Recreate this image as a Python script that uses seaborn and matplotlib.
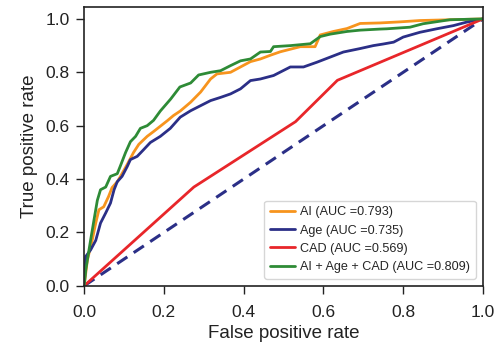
import numpy as np
import pandas as pd
import matplotlib
matplotlib.use("Agg")
import matplotlib.pyplot as plt
import seaborn as sns

labels = ["AI (AUC =0.793)", "Age (AUC =0.735)", "CAD (AUC =0.569)", "AI + Age + CAD (AUC =0.809)"]
colors = ["#f7941d", "#2b2f87", "#e8262a", "#2e8b36"]

ai_fpr = [0, 0.008, 0.02, 0.029, 0.037, 0.049, 0.061, 0.07, 0.083, 0.091, 0.108, 0.124, 0.137, 0.158,
          0.174, 0.191, 0.208, 0.224, 0.241, 0.267, 0.292, 0.317, 0.333, 0.367, 0.392, 0.417, 0.442,
          0.467, 0.492, 0.542, 0.579, 0.592, 0.625, 0.659, 0.692, 0.742, 0.792, 0.842, 0.92, 1.0]
ai_tpr = [0, 0.096, 0.17, 0.235, 0.285, 0.296, 0.334, 0.368, 0.39, 0.41, 0.455, 0.50, 0.53, 0.56,
          0.578, 0.598, 0.618, 0.638, 0.655, 0.688, 0.726, 0.775, 0.794, 0.80, 0.82, 0.84, 0.85,
          0.864, 0.877, 0.896, 0.896, 0.94, 0.953, 0.964, 0.983, 0.985, 0.989, 0.994, 0.997, 1.0]

age_fpr = [0, 0.004, 0.016, 0.029, 0.041, 0.054, 0.066, 0.075, 0.083, 0.095, 0.108, 0.116, 0.133,
           0.149, 0.166, 0.191, 0.216, 0.241, 0.267, 0.292, 0.317, 0.342, 0.367, 0.392, 0.417, 0.442,
           0.475, 0.517, 0.55, 0.584, 0.617, 0.65, 0.692, 0.725, 0.75, 0.776, 0.80, 0.842, 0.884,
           0.926, 0.959, 1.0]
age_tpr = [0, 0.11, 0.134, 0.17, 0.235, 0.273, 0.31, 0.36, 0.39, 0.41, 0.447, 0.473, 0.485,
           0.51, 0.537, 0.56, 0.59, 0.632, 0.656, 0.675, 0.694, 0.706, 0.719, 0.738, 0.769, 0.775,
           0.788, 0.82, 0.82, 0.838, 0.857, 0.876, 0.889, 0.90, 0.906, 0.913, 0.932, 0.95, 0.963,
           0.975, 0.988, 1.0]

cad_fpr = [0, 0.275, 0.53, 0.635, 1.0]
cad_tpr = [0, 0.37, 0.615, 0.77, 1.0]

all_fpr = [0, 0.004, 0.016, 0.025, 0.033, 0.041, 0.054, 0.066, 0.083, 0.091, 0.104, 0.116, 0.129,
           0.141, 0.158, 0.174, 0.191, 0.217, 0.24, 0.267, 0.287, 0.317, 0.342, 0.367, 0.392, 0.417,
           0.442, 0.467, 0.475, 0.517, 0.567, 0.592, 0.617, 0.659, 0.692, 0.742, 0.759, 0.817, 0.85,
           0.917, 1.0]
all_tpr = [0, 0.06, 0.17, 0.25, 0.32, 0.36, 0.37, 0.41, 0.42, 0.45, 0.50, 0.54, 0.56,
           0.59, 0.60, 0.62, 0.655, 0.70, 0.745, 0.76, 0.79, 0.80, 0.806, 0.825, 0.843, 0.85,
           0.876, 0.878, 0.896, 0.90, 0.907, 0.934, 0.943, 0.953, 0.958, 0.962, 0.963, 0.969, 0.982,
           0.997, 1.0]

chance = [0, 1]
tick_vals = [0, 0.2, 0.4, 0.6, 0.8, 1.0]
tick_labels = ["0.0", "0.2", "0.4", "0.6", "0.8", "1.0"]

frames = []
for lab, f, t in zip(labels, [ai_fpr, age_fpr, cad_fpr, all_fpr], [ai_tpr, age_tpr, cad_tpr, all_tpr]):
    frames.append(pd.DataFrame({"fpr": f, "tpr": t, "model": lab}))
df = pd.concat(frames, ignore_index=True)

sns.set_theme(style="white")
plt.rcParams["font.family"] = ["Liberation Sans", "DejaVu Sans"]

fig = plt.figure(figsize=(5.01, 3.46), dpi=100)
ax = fig.add_axes([0.168, 0.174, 0.796, 0.806])

sns.lineplot(x=chance, y=chance, ax=ax, color="#2b2f87", linestyle=(0, (4, 2.5)), linewidth=2.2)
sns.lineplot(data=df, x="fpr", y="tpr", hue="model", palette=dict(zip(labels, colors)),
             sort=False, estimator=None, units="model", linewidth=2.0, ax=ax, legend=True)

ax.set_xlim(0, 1.0)
ax.set_ylim(0, 1.045)
ax.set_xticks(tick_vals)
ax.set_yticks(tick_vals)
ax.set_xticklabels(tick_labels)
ax.set_yticklabels(tick_labels)
ax.tick_params(axis="both", which="both", direction="out", length=5.5, width=1.0,
               labelsize=12.5, colors="#222222", bottom=True, left=True)
ax.tick_params(axis="x", pad=8)
ax.tick_params(axis="y", pad=5)
ax.set_xlabel("False positive rate", fontsize=13.5, color="#222222", labelpad=4)
ax.set_ylabel("True positive rate", fontsize=13.5, color="#222222", labelpad=5)
for s in ax.spines.values():
    s.set_color("#222222")
    s.set_linewidth(1.2)

handles, labs = ax.get_legend_handles_labels()
leg = ax.legend(handles, labs, loc="lower right", fontsize=9.1, frameon=True,
                handlelength=2.0, handletextpad=0.4, borderpad=0.45, labelspacing=0.5,
                borderaxespad=0.55, title=None)
leg.get_frame().set_edgecolor("#cccccc")
for h in leg.get_lines():
    h.set_linewidth(2.0)

fig.savefig("out.png", dpi=100)
